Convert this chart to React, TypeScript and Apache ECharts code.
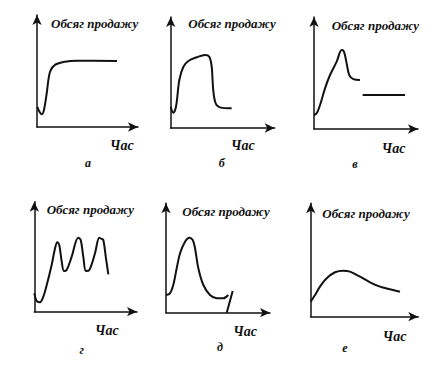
import React, { useEffect, useRef } from "react";
import * as echarts from "echarts";

// Curves in each panel, on a 0..100 scale for both axes
const curveA: [number, number][] = [
  [0.5, 17.9], [2, 14.3], [4.7, 11.3], [6.9, 15.2], [9.6, 30.1], [12.9, 49.4],
  [17.8, 55.4], [27.7, 58.3], [39.6, 59.2], [79.2, 58.9],
];
const curveB: [number, number][] = [
  [0, 19.2], [2.5, 13.8], [5.1, 19.2], [8.3, 43.2], [12.2, 55.2], [17, 60.4],
  [25, 63.7], [33, 65.8], [37.1, 64.2], [39.4, 55.2], [40.9, 34.2], [43.2, 22.3],
  [47.4, 18.6], [58.6, 17.7],
];
const curveV: [number, number][] = [
  [0, 12.5], [2.6, 14], [5.8, 21.4], [10.6, 36.3], [15.4, 48.2], [21.8, 60.1],
  [26.6, 70.5], [28.8, 69], [31.4, 58.6], [33.9, 48.2], [37.8, 44.6], [44.2, 43.8],
];
const curveV2: [number, number][] = [
  [46.8, 30.4], [87.5, 30.4],
];
const curveG: [number, number][] = [
  [0, 16.7], [2.3, 9.7], [4.9, 8.5], [8.2, 12.2], [12.1, 24.3], [16.9, 42.5],
  [20.2, 57.6], [22.4, 63.1], [24.3, 60.6], [26.7, 45.5], [28.9, 37], [31.5, 37.9],
  [36.4, 50], [42.8, 67.3], [45.2, 65.2], [47.7, 50], [50.3, 37], [53.6, 37.9],
  [59.1, 53.1], [63.3, 67.3], [65.6, 66.1], [67.2, 65.2], [69.8, 48.5], [72.1, 34],
];
const curveD: [number, number][] = [
  [0, 16.2], [3.8, 17.7], [7, 25.3], [10.3, 40.6], [13.5, 54.3], [18.3, 64.9],
  [22.4, 68.6], [25.7, 66.5], [27.9, 58.9], [31.1, 40.6], [35.9, 25.3], [42.3, 16.2],
  [48.8, 13.2], [55.1, 13.2], [59.9, 16.2],
];
const curveD2: [number, number][] = [
  [58.4, 0], [64.1, 19.8],
];
const curveE: [number, number][] = [
  [0, 13.2], [4, 19.1], [8.6, 26.5], [14.9, 33.9], [22.6, 39.2], [30.3, 40.6],
  [36.5, 39.7], [45.8, 35.3], [55.1, 30.3], [64.4, 26.5], [73.7, 24.2], [83, 22],
];

const yTitle = "Обсяг продажу";
const xTitle = "Час";
const panelLetters = ["а", "б", "в", "г", "д", "е"];

const panelSeries: [number, number][][][] = [
  [curveA],
  [curveB],
  [curveV, curveV2],
  [curveG],
  [curveD, curveD2],
  [curveE],
];

// layout (pixels)
const grids = [
  { left: 37, top: 15, width: 101, height: 112 },
  { left: 170.7, top: 17, width: 104, height: 111 },
  { left: 314, top: 17, width: 104, height: 112 },
  { left: 34.3, top: 201.7, width: 102.7, height: 110 },
  { left: 166, top: 203.3, width: 104, height: 109.4 },
  { left: 310.7, top: 203.3, width: 107.6, height: 113.4 },
];
const titlePos = [
  [51, 23], [188.3, 23.5], [331.7, 25], [46.7, 209], [182.3, 211], [322.3, 213],
];
const xTitlePos = [
  [110, 145], [231, 145], [381.7, 148], [95, 330], [233.3, 331], [382.7, 336],
];
const letterPos = [
  [88, 163], [221.7, 163], [355, 164], [81.7, 350], [220, 347], [345, 348],
];

const FONT = "Liberation Serif";

export default function App() {
  const ref = useRef<HTMLDivElement>(null);
  useEffect(() => {
    if (!ref.current) return;
    const chart = echarts.init(ref.current, undefined, { renderer: "svg" });
    const axisLine = (symbol: string[]) => ({
      show: true,
      onZero: false,
      symbol,
      symbolSize: [7, 10],
      lineStyle: { color: "#111", width: 1.5 },
    });
    const xAxis = grids.map((_, i) => ({
      type: "value",
      gridIndex: i,
      min: 0,
      max: 100,
      axisLine: axisLine(["none", "arrow"]),
      axisTick: { show: false },
      axisLabel: { show: false },
      splitLine: { show: false },
    }));
    const yAxis = grids.map((_, i) => ({
      type: "value",
      gridIndex: i,
      min: 0,
      max: 100,
      axisLine: axisLine(["none", "arrow"]),
      axisTick: { show: false },
      axisLabel: { show: false },
      splitLine: { show: false },
    }));
    const series: any[] = [];
    panelSeries.forEach((list, i) => {
      list.forEach((data) => {
        series.push({
          type: "line",
          xAxisIndex: i,
          yAxisIndex: i,
          data,
          smooth: 0.35,
          showSymbol: false,
          silent: true,
          lineStyle: { color: "#111", width: 2 },
        });
      });
    });
    const textStyle = (text: string, size: number, align: string) => ({
      text,
      fontFamily: FONT,
      fontSize: size,
      fontWeight: "bold",
      fontStyle: "italic",
      fill: "#111",
      textAlign: align,
      textVerticalAlign: "middle",
    });
    const graphic: any[] = [];
    titlePos.forEach(([x, y]) => {
      graphic.push({ type: "text", x, y, style: textStyle(yTitle, 13, "left") });
    });
    xTitlePos.forEach(([x, y]) => {
      graphic.push({ type: "text", x, y, style: textStyle(xTitle, 14, "left") });
    });
    letterPos.forEach(([x, y], i) => {
      graphic.push({ type: "text", x, y, style: textStyle(panelLetters[i], 12, "center") });
    });
    chart.setOption({
      animation: false,
      backgroundColor: "#ffffff",
      grid: grids.map((g) => ({ ...g, containLabel: false })),
      xAxis,
      yAxis,
      series,
      graphic,
    });
    return () => chart.dispose();
  }, []);
  return (
    <div
      ref={ref}
      style={{ position: "absolute", left: 0, top: 0, width: 447, height: 372, background: "#fff" }}
    />
  );
}
